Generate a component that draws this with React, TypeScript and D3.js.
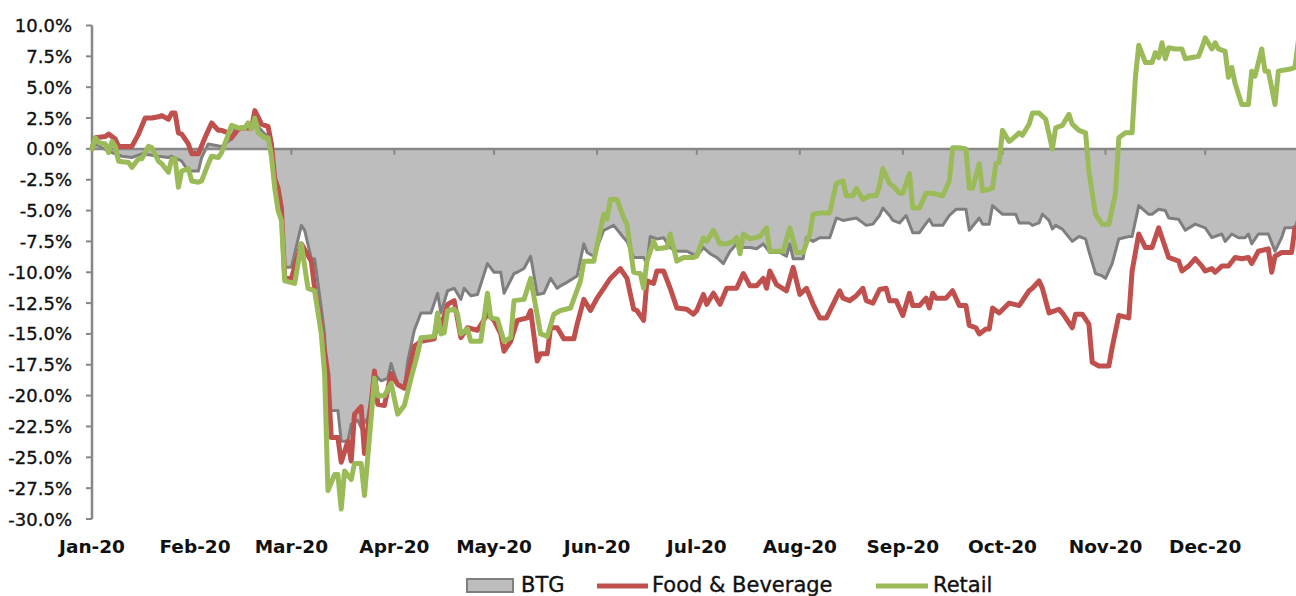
import React from "react";
import * as d3 from "d3";

// cumulative performance, % since start of 2020
const btg: [string, number][] = [
  ["2020-01-01", 0.0], ["2020-01-02", 0.4], ["2020-01-06", -0.2], ["2020-01-10", -0.6],
  ["2020-01-13", -0.7], ["2020-01-16", -0.4], ["2020-01-21", -0.6], ["2020-01-24", -0.7],
  ["2020-01-25", -0.6], ["2020-01-28", -1.0], ["2020-01-30", -1.8], ["2020-02-02", -1.8],
  ["2020-02-03", -0.7], ["2020-02-05", 0.4], ["2020-02-09", 0.2], ["2020-02-12", 0.8],
  ["2020-02-13", 1.7], ["2020-02-18", 1.7], ["2020-02-19", 2.1], ["2020-02-22", 1.2],
  ["2020-02-23", 1.0], ["2020-02-24", 0.6], ["2020-02-25", -2.8], ["2020-02-26", -4.6],
  ["2020-02-27", -5.4], ["2020-02-28", -9.6], ["2020-03-01", -9.6], ["2020-03-04", -6.2],
  ["2020-03-05", -6.6], ["2020-03-07", -8.9], ["2020-03-08", -8.9], ["2020-03-10", -12.9],
  ["2020-03-11", -15.0], ["2020-03-12", -21.2], ["2020-03-15", -21.2], ["2020-03-16", -23.7],
  ["2020-03-18", -23.7], ["2020-03-19", -22.3], ["2020-03-21", -22.0], ["2020-03-22", -22.6],
  ["2020-03-24", -21.8], ["2020-03-26", -18.3], ["2020-03-28", -18.8], ["2020-03-30", -18.6],
  ["2020-03-31", -17.4], ["2020-04-02", -19.1], ["2020-04-04", -19.4], ["2020-04-05", -17.2],
  ["2020-04-07", -14.7], ["2020-04-09", -13.3], ["2020-04-12", -13.3], ["2020-04-14", -11.7],
  ["2020-04-15", -13.3], ["2020-04-17", -11.5], ["2020-04-19", -11.3], ["2020-04-21", -12.2],
  ["2020-04-22", -11.3], ["2020-04-24", -11.9], ["2020-04-26", -11.8], ["2020-04-29", -9.3],
  ["2020-05-01", -10.0], ["2020-05-03", -10.0], ["2020-05-04", -11.7], ["2020-05-07", -10.1],
  ["2020-05-08", -10.0], ["2020-05-10", -9.7], ["2020-05-12", -8.7], ["2020-05-14", -11.8],
  ["2020-05-16", -11.7], ["2020-05-18", -10.5], ["2020-05-20", -11.3], ["2020-05-21", -11.1],
  ["2020-05-23", -10.8], ["2020-05-26", -10.3], ["2020-05-28", -7.7], ["2020-05-29", -8.4],
  ["2020-05-31", -8.7], ["2020-06-03", -6.6], ["2020-06-06", -6.2], ["2020-06-09", -7.2],
  ["2020-06-10", -7.5], ["2020-06-12", -8.8], ["2020-06-15", -8.8], ["2020-06-16", -9.3],
  ["2020-06-17", -7.1], ["2020-06-19", -7.3], ["2020-06-21", -7.2], ["2020-06-23", -8.0],
  ["2020-06-25", -8.3], ["2020-06-28", -8.3], ["2020-07-01", -8.7], ["2020-07-03", -8.0],
  ["2020-07-05", -8.5], ["2020-07-07", -8.8], ["2020-07-09", -9.3], ["2020-07-11", -8.3],
  ["2020-07-13", -7.7], ["2020-07-15", -8.0], ["2020-07-17", -8.0], ["2020-07-19", -8.1],
  ["2020-07-21", -7.7], ["2020-07-23", -8.4], ["2020-07-26", -8.4], ["2020-07-28", -8.7],
  ["2020-07-29", -7.7], ["2020-07-30", -8.9], ["2020-08-02", -8.9], ["2020-08-03", -7.2],
  ["2020-08-05", -7.5], ["2020-08-07", -7.2], ["2020-08-10", -7.2], ["2020-08-12", -5.6],
  ["2020-08-14", -5.8], ["2020-08-16", -5.7], ["2020-08-18", -5.6], ["2020-08-20", -6.0],
  ["2020-08-21", -6.2], ["2020-08-23", -6.1], ["2020-08-25", -5.4], ["2020-08-26", -4.8],
  ["2020-08-28", -5.4], ["2020-08-29", -5.8], ["2020-08-31", -6.0], ["2020-09-02", -5.4],
  ["2020-09-04", -6.8], ["2020-09-06", -6.8], ["2020-09-07", -6.4], ["2020-09-09", -5.7],
  ["2020-09-10", -6.2], ["2020-09-13", -6.2], ["2020-09-15", -5.4], ["2020-09-17", -4.9],
  ["2020-09-20", -4.9], ["2020-09-21", -6.6], ["2020-09-24", -5.6], ["2020-09-25", -6.1],
  ["2020-09-27", -6.1], ["2020-09-28", -4.6], ["2020-10-01", -5.3], ["2020-10-03", -5.3],
  ["2020-10-05", -5.3], ["2020-10-06", -6.0], ["2020-10-09", -6.0], ["2020-10-10", -6.2],
  ["2020-10-12", -6.0], ["2020-10-13", -5.3], ["2020-10-15", -5.8], ["2020-10-16", -6.5],
  ["2020-10-17", -6.2], ["2020-10-19", -6.5], ["2020-10-22", -7.5], ["2020-10-24", -7.1],
  ["2020-10-26", -7.3], ["2020-10-27", -8.3], ["2020-10-29", -10.1], ["2020-10-31", -10.3],
  ["2020-11-01", -10.5], ["2020-11-03", -9.3], ["2020-11-05", -7.3], ["2020-11-08", -7.1],
  ["2020-11-09", -7.1], ["2020-11-11", -4.6], ["2020-11-14", -5.3], ["2020-11-15", -5.3],
  ["2020-11-17", -4.9], ["2020-11-19", -5.0], ["2020-11-20", -5.6], ["2020-11-23", -5.7],
  ["2020-11-25", -6.6], ["2020-11-28", -6.1], ["2020-12-01", -6.4], ["2020-12-03", -7.2],
  ["2020-12-06", -6.9], ["2020-12-07", -7.5], ["2020-12-09", -6.9], ["2020-12-11", -7.2],
  ["2020-12-13", -7.2], ["2020-12-14", -6.9], ["2020-12-15", -7.7], ["2020-12-17", -6.9],
  ["2020-12-20", -6.9], ["2020-12-22", -8.3], ["2020-12-24", -7.2], ["2020-12-25", -6.4],
  ["2020-12-28", -6.4], ["2020-12-29", -5.6],
];

const foodBeverage: [string, number][] = [
  ["2020-01-01", 0.0], ["2020-01-02", 0.9], ["2020-01-05", 1.0], ["2020-01-06", 1.2],
  ["2020-01-08", 0.8], ["2020-01-09", 0.2], ["2020-01-13", 0.2], ["2020-01-15", 1.2],
  ["2020-01-17", 2.5], ["2020-01-19", 2.5], ["2020-01-21", 2.6], ["2020-01-22", 2.7],
  ["2020-01-24", 2.4], ["2020-01-25", 2.9], ["2020-01-26", 2.9], ["2020-01-27", 1.3],
  ["2020-01-28", 1.2], ["2020-01-30", 0.4], ["2020-01-31", -0.4], ["2020-02-02", -0.4],
  ["2020-02-04", 0.9], ["2020-02-06", 2.1], ["2020-02-08", 1.5], ["2020-02-09", 1.5],
  ["2020-02-11", 1.3], ["2020-02-12", 0.9], ["2020-02-14", 1.6], ["2020-02-15", 1.7],
  ["2020-02-18", 1.7], ["2020-02-19", 3.1], ["2020-02-21", 2.0], ["2020-02-22", 1.9],
  ["2020-02-23", 1.8], ["2020-02-24", 0.4], ["2020-02-25", -2.4], ["2020-02-26", -3.2],
  ["2020-02-27", -4.8], ["2020-02-28", -10.5], ["2020-03-01", -10.5], ["2020-03-04", -7.7],
  ["2020-03-07", -9.1], ["2020-03-08", -11.3], ["2020-03-10", -14.5], ["2020-03-12", -18.3],
  ["2020-03-13", -23.4], ["2020-03-15", -23.4], ["2020-03-16", -25.4], ["2020-03-18", -23.7],
  ["2020-03-19", -25.3], ["2020-03-20", -21.5], ["2020-03-22", -20.9], ["2020-03-23", -24.7],
  ["2020-03-25", -20.7], ["2020-03-26", -18.0], ["2020-03-27", -20.7], ["2020-03-29", -20.8],
  ["2020-03-31", -18.2], ["2020-04-02", -19.1], ["2020-04-04", -19.4], ["2020-04-06", -17.2],
  ["2020-04-07", -16.0], ["2020-04-09", -15.6], ["2020-04-13", -15.4], ["2020-04-14", -13.7],
  ["2020-04-15", -14.5], ["2020-04-17", -12.6], ["2020-04-19", -12.3], ["2020-04-21", -15.3],
  ["2020-04-23", -14.5], ["2020-04-26", -14.7], ["2020-04-29", -13.4], ["2020-05-01", -13.9],
  ["2020-05-03", -15.0], ["2020-05-04", -16.4], ["2020-05-06", -15.6], ["2020-05-08", -13.9],
  ["2020-05-11", -13.7], ["2020-05-12", -13.1], ["2020-05-14", -17.2], ["2020-05-15", -16.6],
  ["2020-05-17", -16.6], ["2020-05-18", -14.5], ["2020-05-20", -14.5], ["2020-05-22", -15.4],
  ["2020-05-25", -15.4], ["2020-05-26", -14.2], ["2020-05-28", -12.2], ["2020-05-30", -13.1],
  ["2020-06-01", -12.1], ["2020-06-03", -11.3], ["2020-06-05", -10.5], ["2020-06-08", -9.7],
  ["2020-06-10", -10.5], ["2020-06-12", -13.0], ["2020-06-13", -13.1], ["2020-06-15", -13.9],
  ["2020-06-16", -10.7], ["2020-06-18", -10.9], ["2020-06-19", -9.9], ["2020-06-21", -9.9],
  ["2020-06-23", -11.3], ["2020-06-25", -12.9], ["2020-06-28", -13.0], ["2020-06-30", -13.4],
  ["2020-07-01", -13.1], ["2020-07-03", -11.8], ["2020-07-04", -12.6], ["2020-07-06", -11.7],
  ["2020-07-08", -12.6], ["2020-07-10", -11.3], ["2020-07-13", -11.3], ["2020-07-15", -10.1],
  ["2020-07-17", -11.1], ["2020-07-19", -11.1], ["2020-07-21", -10.5], ["2020-07-22", -11.3],
  ["2020-07-23", -9.9], ["2020-07-25", -11.0], ["2020-07-28", -11.5], ["2020-07-30", -9.6],
  ["2020-08-01", -11.8], ["2020-08-03", -11.3], ["2020-08-05", -12.6], ["2020-08-07", -13.7],
  ["2020-08-09", -13.7], ["2020-08-11", -12.6], ["2020-08-13", -11.5], ["2020-08-14", -12.1],
  ["2020-08-16", -12.3], ["2020-08-18", -11.9], ["2020-08-20", -11.3], ["2020-08-21", -12.3],
  ["2020-08-23", -12.5], ["2020-08-25", -11.4], ["2020-08-27", -11.3], ["2020-08-28", -12.3],
  ["2020-08-30", -12.3], ["2020-09-01", -13.5], ["2020-09-03", -11.7], ["2020-09-04", -12.7],
  ["2020-09-06", -12.7], ["2020-09-08", -12.1], ["2020-09-09", -12.9], ["2020-09-10", -11.7],
  ["2020-09-11", -12.1], ["2020-09-14", -12.1], ["2020-09-16", -11.5], ["2020-09-18", -12.7],
  ["2020-09-20", -12.7], ["2020-09-21", -14.3], ["2020-09-23", -14.5], ["2020-09-24", -15.0],
  ["2020-09-26", -14.6], ["2020-09-27", -14.6], ["2020-09-28", -12.9], ["2020-09-30", -13.3],
  ["2020-10-03", -12.5], ["2020-10-06", -12.7], ["2020-10-09", -11.5], ["2020-10-10", -11.3],
  ["2020-10-12", -10.7], ["2020-10-13", -11.3], ["2020-10-15", -13.3], ["2020-10-18", -13.0],
  ["2020-10-19", -13.3], ["2020-10-22", -14.5], ["2020-10-23", -13.4], ["2020-10-25", -13.4],
  ["2020-10-27", -14.2], ["2020-10-28", -17.3], ["2020-10-30", -17.6], ["2020-11-02", -17.6],
  ["2020-11-03", -16.1], ["2020-11-05", -13.5], ["2020-11-08", -13.7], ["2020-11-09", -9.9],
  ["2020-11-11", -6.9], ["2020-11-13", -8.0], ["2020-11-15", -8.0], ["2020-11-17", -6.4],
  ["2020-11-18", -7.2], ["2020-11-20", -8.8], ["2020-11-21", -8.9], ["2020-11-23", -9.1],
  ["2020-11-24", -9.9], ["2020-11-26", -9.5], ["2020-11-28", -8.9], ["2020-11-30", -9.5],
  ["2020-12-01", -9.9], ["2020-12-03", -9.7], ["2020-12-04", -10.0], ["2020-12-06", -9.5],
  ["2020-12-08", -9.5], ["2020-12-10", -8.8], ["2020-12-12", -8.9], ["2020-12-14", -8.8],
  ["2020-12-15", -9.3], ["2020-12-17", -8.3], ["2020-12-20", -8.1], ["2020-12-21", -10.0],
  ["2020-12-22", -8.7], ["2020-12-24", -8.4], ["2020-12-27", -8.4], ["2020-12-28", -6.4],
  ["2020-12-29", -6.5],
];

const retail: [string, number][] = [
  ["2020-01-01", 0.0], ["2020-01-02", 0.9], ["2020-01-03", 0.5], ["2020-01-05", 0.4],
  ["2020-01-06", -0.3], ["2020-01-07", 0.6], ["2020-01-08", 0.2], ["2020-01-09", -1.0],
  ["2020-01-12", -1.1], ["2020-01-13", -1.5], ["2020-01-15", -0.8], ["2020-01-16", -0.8],
  ["2020-01-18", 0.2], ["2020-01-19", 0.1], ["2020-01-21", -1.0], ["2020-01-22", -1.2],
  ["2020-01-24", -1.9], ["2020-01-25", -0.8], ["2020-01-26", -0.8], ["2020-01-27", -3.1],
  ["2020-01-28", -1.8], ["2020-01-30", -1.6], ["2020-01-31", -2.6], ["2020-02-02", -2.7],
  ["2020-02-03", -2.6], ["2020-02-05", -1.2], ["2020-02-06", -0.6], ["2020-02-08", -0.7],
  ["2020-02-09", -0.3], ["2020-02-12", 1.9], ["2020-02-14", 1.7], ["2020-02-16", 1.7],
  ["2020-02-17", 2.1], ["2020-02-18", 1.6], ["2020-02-19", 2.5], ["2020-02-20", 1.3],
  ["2020-02-22", 0.9], ["2020-02-23", 0.9], ["2020-02-24", -0.6], ["2020-02-25", -3.2],
  ["2020-02-26", -5.0], ["2020-02-27", -5.8], ["2020-02-28", -10.7], ["2020-03-02", -10.9],
  ["2020-03-04", -7.7], ["2020-03-06", -11.3], ["2020-03-08", -11.5], ["2020-03-10", -15.0],
  ["2020-03-11", -18.2], ["2020-03-12", -27.7], ["2020-03-14", -26.4], ["2020-03-15", -26.4],
  ["2020-03-16", -29.2], ["2020-03-17", -26.1], ["2020-03-19", -26.8], ["2020-03-20", -25.5],
  ["2020-03-22", -25.5], ["2020-03-23", -28.1], ["2020-03-25", -21.8], ["2020-03-26", -18.6],
  ["2020-03-27", -20.0], ["2020-03-29", -20.0], ["2020-03-31", -19.0], ["2020-04-02", -21.5],
  ["2020-04-04", -20.8], ["2020-04-06", -18.6], ["2020-04-08", -16.6], ["2020-04-09", -15.3],
  ["2020-04-13", -15.2], ["2020-04-14", -13.3], ["2020-04-15", -15.0], ["2020-04-16", -14.9],
  ["2020-04-17", -13.1], ["2020-04-19", -13.0], ["2020-04-20", -13.4], ["2020-04-21", -15.0],
  ["2020-04-23", -14.6], ["2020-04-24", -15.6], ["2020-04-27", -15.6], ["2020-04-29", -11.7],
  ["2020-04-30", -13.7], ["2020-05-02", -13.8], ["2020-05-04", -15.6], ["2020-05-06", -15.3],
  ["2020-05-07", -12.3], ["2020-05-10", -12.2], ["2020-05-12", -10.5], ["2020-05-15", -15.0],
  ["2020-05-17", -15.2], ["2020-05-19", -13.4], ["2020-05-21", -13.1], ["2020-05-24", -12.9],
  ["2020-05-27", -10.7], ["2020-05-28", -9.1], ["2020-05-31", -9.1], ["2020-06-03", -5.3],
  ["2020-06-04", -5.7], ["2020-06-05", -4.1], ["2020-06-07", -4.1], ["2020-06-09", -5.6],
  ["2020-06-10", -6.1], ["2020-06-12", -10.0], ["2020-06-14", -10.1], ["2020-06-15", -11.3],
  ["2020-06-16", -9.1], ["2020-06-18", -7.5], ["2020-06-19", -8.1], ["2020-06-22", -8.0],
  ["2020-06-23", -6.9], ["2020-06-25", -9.1], ["2020-06-27", -8.8], ["2020-06-30", -8.8],
  ["2020-07-01", -8.7], ["2020-07-03", -7.2], ["2020-07-04", -7.5], ["2020-07-06", -6.6],
  ["2020-07-08", -7.7], ["2020-07-10", -7.7], ["2020-07-12", -7.5], ["2020-07-13", -7.2],
  ["2020-07-14", -8.5], ["2020-07-15", -6.9], ["2020-07-17", -7.3], ["2020-07-20", -7.1],
  ["2020-07-22", -6.4], ["2020-07-23", -8.3], ["2020-07-27", -8.3], ["2020-07-29", -6.4],
  ["2020-07-31", -8.4], ["2020-08-02", -8.4], ["2020-08-04", -6.9], ["2020-08-05", -5.3],
  ["2020-08-07", -5.2], ["2020-08-10", -5.2], ["2020-08-12", -2.8], ["2020-08-14", -2.6],
  ["2020-08-15", -3.8], ["2020-08-17", -3.8], ["2020-08-18", -3.2], ["2020-08-20", -4.1],
  ["2020-08-22", -3.8], ["2020-08-24", -3.8], ["2020-08-25", -3.0], ["2020-08-26", -1.6],
  ["2020-08-28", -2.8], ["2020-08-29", -3.0], ["2020-08-31", -3.6], ["2020-09-01", -3.6],
  ["2020-09-03", -2.0], ["2020-09-04", -4.8], ["2020-09-06", -4.8], ["2020-09-08", -3.6],
  ["2020-09-10", -3.6], ["2020-09-13", -3.8], ["2020-09-15", -2.6], ["2020-09-16", 0.1],
  ["2020-09-18", 0.1], ["2020-09-20", 0.0], ["2020-09-21", -3.2], ["2020-09-22", -3.2],
  ["2020-09-24", -1.2], ["2020-09-25", -3.4], ["2020-09-28", -3.2], ["2020-09-29", -1.2],
  ["2020-09-30", -1.1], ["2020-10-01", 1.5], ["2020-10-03", 0.6], ["2020-10-04", 0.8],
  ["2020-10-06", 1.3], ["2020-10-07", 1.1], ["2020-10-09", 2.0], ["2020-10-10", 2.9],
  ["2020-10-12", 2.9], ["2020-10-14", 2.4], ["2020-10-16", 0.0], ["2020-10-17", 1.7],
  ["2020-10-19", 1.9], ["2020-10-21", 2.8], ["2020-10-22", 2.0], ["2020-10-24", 1.5],
  ["2020-10-26", 1.3], ["2020-10-27", -1.8], ["2020-10-29", -5.3], ["2020-10-31", -6.1],
  ["2020-11-02", -6.1], ["2020-11-04", -3.6], ["2020-11-05", 0.9], ["2020-11-07", 1.3],
  ["2020-11-09", 1.3], ["2020-11-10", 5.8], ["2020-11-11", 8.4], ["2020-11-13", 7.0],
  ["2020-11-15", 7.0], ["2020-11-16", 7.8], ["2020-11-17", 7.4], ["2020-11-18", 8.6],
  ["2020-11-19", 7.3], ["2020-11-20", 8.2], ["2020-11-22", 8.1], ["2020-11-24", 8.1],
  ["2020-11-25", 7.3], ["2020-11-27", 7.4], ["2020-11-29", 7.5], ["2020-11-30", 8.2],
  ["2020-12-01", 9.0], ["2020-12-03", 8.1], ["2020-12-04", 8.6], ["2020-12-05", 8.1],
  ["2020-12-07", 7.9], ["2020-12-08", 5.8], ["2020-12-09", 6.6], ["2020-12-10", 5.3],
  ["2020-12-12", 3.6], ["2020-12-14", 3.6], ["2020-12-15", 6.3], ["2020-12-16", 5.9],
  ["2020-12-18", 8.1], ["2020-12-19", 6.3], ["2020-12-20", 6.3], ["2020-12-22", 3.6],
  ["2020-12-23", 6.3], ["2020-12-27", 6.5], ["2020-12-28", 6.6], ["2020-12-29", 8.7],
];

const yTicks = [10, 7.5, 5, 2.5, 0, -2.5, -5, -7.5, -10, -12.5, -15, -17.5, -20, -22.5, -25, -27.5, -30];
const seriesNames = ["BTG", "Food & Beverage", "Retail"];

const parse = d3.utcParse("%Y-%m-%d");
const fmtMonth = d3.utcFormat("%b-%y");
const fmtPct = (v: number) => v.toFixed(1) + "%";

const W = 1296;
const H = 596;
const FONT = "'DejaVu Sans', Verdana, sans-serif";

const App = () => {
  const start = parse("2020-01-01") as Date;
  const end = parse("2021-01-01") as Date;
  const x = d3.scaleUtc().domain([start, end]).range([92, 92 + 366 * 3.323]);
  const y = d3.scaleLinear().domain([-30, 10]).range([519, 25.5]);

  const toPts = (s: [string, number][]) => s.map(([d, v]) => ({ date: parse(d) as Date, v }));
  const btgPts = toPts(btg);
  const fbPts = toPts(foodBeverage);
  const rtPts = toPts(retail);

  const line = d3
    .line<{ date: Date; v: number }>()
    .x((d) => x(d.date))
    .y((d) => y(d.v));
  const area = d3
    .area<{ date: Date; v: number }>()
    .x((d) => x(d.date))
    .y0(y(0))
    .y1((d) => y(d.v));

  const months = d3.utcMonth.range(start, end);
  const axisColor = "#878787";
  const textProps = { fontFamily: FONT, fill: "#111", stroke: "#111", strokeWidth: 0.35 };

  return (
    <svg
      width={W}
      height={H}
      style={{ position: "absolute", left: 0, top: 0, background: "#fff" }}
    >
      {/* BTG area */}
      <path d={area(btgPts) || ""} fill="#bdbdbd" stroke="none" />
      <path
        d={line(btgPts) || ""}
        fill="none"
        stroke="#7f7f7f"
        strokeWidth={3}
        strokeLinejoin="round"
      />

      {/* zero axis with month ticks */}
      <line x1={92} x2={W} y1={y(0)} y2={y(0)} stroke={axisColor} strokeWidth={2.5} />
      {months.map((m, i) => (
        <line
          key={"t" + i}
          x1={x(m)}
          x2={x(m)}
          y1={y(0)}
          y2={y(0) + 6}
          stroke={axisColor}
          strokeWidth={2}
        />
      ))}

      {/* y axis */}
      <line x1={92} x2={92} y1={y(10)} y2={y(-30)} stroke={axisColor} strokeWidth={2.5} />
      {yTicks.map((t) => (
        <g key={"y" + t}>
          <line x1={86} x2={92} y1={y(t)} y2={y(t)} stroke={axisColor} strokeWidth={2} />
          <text x={72} y={y(t) + 6.5} textAnchor="end" fontSize={18} {...textProps}>
            {fmtPct(t)}
          </text>
        </g>
      ))}

      {/* series lines */}
      <path
        d={line(fbPts) || ""}
        fill="none"
        stroke="#c0504d"
        strokeWidth={5}
        strokeLinejoin="round"
        strokeLinecap="round"
      />
      <path
        d={line(rtPts) || ""}
        fill="none"
        stroke="#9bbb59"
        strokeWidth={5}
        strokeLinejoin="round"
        strokeLinecap="round"
      />

      {/* month labels */}
      {months.map((m, i) => (
        <text
          key={"m" + i}
          x={x(m)}
          y={553}
          textAnchor="middle"
          fontFamily={FONT}
          fontWeight="bold"
          fontSize={18.5}
          fill="#111"
        >
          {fmtMonth(m)}
        </text>
      ))}

      {/* legend */}
      <rect x={467} y={579} width={46} height={13} fill="#bdbdbd" stroke="#7f7f7f" strokeWidth={2} />
      <text x={521} y={592} fontSize={21} {...textProps}>
        {seriesNames[0]}
      </text>
      <line x1={597} x2={648} y1={586} y2={586} stroke="#c0504d" strokeWidth={5} />
      <text x={652} y={592} fontSize={21} {...textProps}>
        {seriesNames[1]}
      </text>
      <line x1={876} x2={928} y1={586} y2={586} stroke="#9bbb59" strokeWidth={5} />
      <text x={933} y={592} fontSize={21} {...textProps}>
        {seriesNames[2]}
      </text>
    </svg>
  );
};

export default App;
